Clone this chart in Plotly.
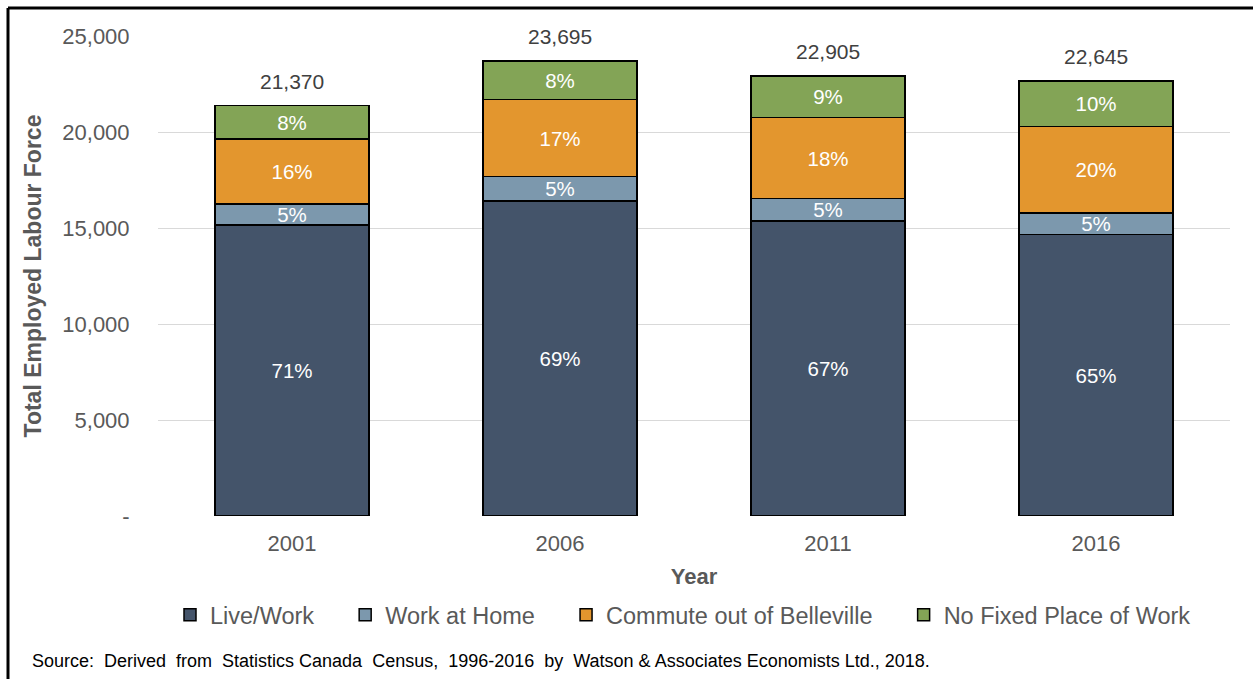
import plotly.graph_objects as go

# Employed labour force by place of work, Belleville
years = ["2001", "2006", "2011", "2016"]
live_work = [15150, 16400, 15370, 14660]
work_at_home = [1100, 1270, 1160, 1110]
commute_out = [3380, 4020, 4220, 4510]
no_fixed = [1740, 2005, 2155, 2365]

series_names = ["Live/Work", "Work at Home", "Commute out of Belleville", "No Fixed Place of Work"]
series_values = [live_work, work_at_home, commute_out, no_fixed]
series_colors = ["#44546A", "#7C98AD", "#E3962E", "#83A456"]

y_tick_vals = [0, 5000, 10000, 15000, 20000, 25000]
y_tick_text = ["-", "5,000", "10,000", "15,000", "20,000", "25,000"]

totals = [sum(v) for v in zip(*series_values)]

# page geometry (pixels)
W, H = 1253, 679
PL, PR, PT, PB = 158, 1230, 36, 516
pw, ph = PR - PL, PB - PT


def px(x):
    return (x - PL) / pw


def py(y):
    return (PB - y) / ph


FONT = "Liberation Sans, Arial, sans-serif"
PAD = "\u00a0" * 4  # spacing between legend entries

fig = go.Figure()
for i, (name, vals, color) in enumerate(zip(series_names, series_values, series_colors)):
    pct = [f"{round(v / t * 100)}%" for v, t in zip(vals, totals)]
    label = name + (PAD if i < len(series_names) - 1 else "")
    fig.add_trace(go.Bar(
        x=years, y=vals, name=label,
        marker=dict(color=color, line=dict(color="#000000", width=1.5)),
        text=pct, textposition="inside", insidetextanchor="middle",
        constraintext="none",
        textfont=dict(color="#FFFFFF", size=20.5, family=FONT),
        hoverinfo="skip",
    ))

for i, t in enumerate(totals):
    fig.add_annotation(x=i, y=t, text=f"{t:,}", showarrow=False,
                       yanchor="bottom", yshift=11,
                       font=dict(size=21, color="#404040", family=FONT))

fig.add_annotation(xref="paper", yref="paper", x=px(30), y=py(661),
                   xanchor="left", yanchor="middle", showarrow=False,
                   text="Source:  Derived  from  Statistics Canada  Census,  1996-2016  by  Watson & Associates Economists Ltd., 2018.",
                   font=dict(size=18, color="#000000", family=FONT))

# outer frame lines (top and left)
fig.add_shape(type="line", xref="paper", yref="paper",
              x0=px(8), x1=px(W + 5), y0=py(8), y1=py(8),
              line=dict(color="#000000", width=3))
fig.add_shape(type="line", xref="paper", yref="paper",
              x0=px(8), x1=px(8), y0=py(8), y1=py(H + 5),
              line=dict(color="#000000", width=3))

fig.update_layout(
    width=W, height=H,
    margin=dict(l=PL, r=W - PR, t=PT, b=H - PB, autoexpand=False),
    barmode="stack", bargap=0.425,
    plot_bgcolor="#FFFFFF", paper_bgcolor="#FFFFFF",
    font=dict(family=FONT, color="#595959"),
    uniformtext=dict(minsize=20, mode="show"),
    showlegend=True,
    legend=dict(orientation="h", x=px(683), xanchor="center", y=py(615), yanchor="middle",
                font=dict(size=23.5, color="#595959", family=FONT),
                traceorder="normal", itemwidth=30),
    xaxis=dict(type="category", range=[-0.5, 3.5],
               title=dict(text="<b>Year</b>", font=dict(size=22, color="#595959"), standoff=13),
               tickfont=dict(size=22, color="#595959"), showline=False,
               ticks="outside", ticklen=8, tickcolor="rgba(0,0,0,0)"),
    yaxis=dict(range=[0, 25000], tickvals=y_tick_vals, ticktext=y_tick_text,
               tickfont=dict(size=22, color="#595959"),
               gridcolor="#D9D9D9", gridwidth=1, zeroline=False,
               title=dict(text="<b>Total Employed Labour Force</b>", font=dict(size=23, color="#595959"), standoff=14),
               ticks="outside", ticklen=23, tickcolor="rgba(0,0,0,0)"),
)

fig.write_html("out.html")
